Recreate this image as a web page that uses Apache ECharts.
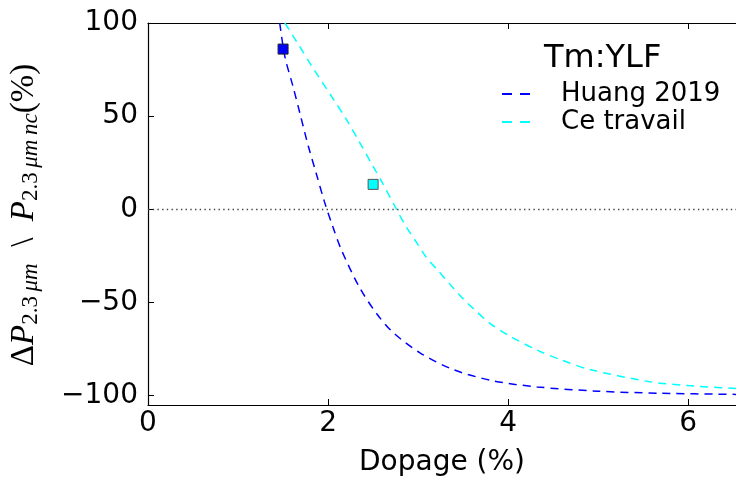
<!DOCTYPE html>
<html><head><meta charset="utf-8">
<script src="https://cdn.jsdelivr.net/npm/echarts@6/dist/echarts.min.js"></script>
<style>html,body{margin:0;padding:0;background:#fff}#c{width:736px;height:482px}</style>
</head><body><div id="c"></div>
<script>
// ---- data ----
const huangX = [1.463, 1.52, 1.61, 1.69, 1.78, 1.87, 1.96, 2.05, 2.15, 2.35, 2.54, 2.72, 3.02, 3.39, 3.83, 4.32, 5.0, 5.7, 6.53];
const huangY = [100, 82, 66, 51, 34, 19, 4, -9, -22, -42, -56, -66, -77, -86, -92, -95.3, -97.6, -98.7, -99.3];
const ceX = [1.52, 1.65, 1.83, 2.06, 2.2, 2.35, 2.5, 2.6, 2.76, 2.87, 2.98, 3.09, 3.22, 3.35, 3.48, 3.63, 3.8, 4.0, 4.32, 4.6, 4.91, 5.57, 6.0, 6.53];
const ceY = [100, 90, 76, 59, 48.5, 36, 23, 14.5, 0, -9.6, -17.6, -25.7, -32.8, -40, -47, -54, -61.3, -67.5, -75.5, -81, -86, -92.5, -94.6, -96.1];
const huangPoint = [1.5, 86];
const cePoint = [2.5, 13.4];
const xTicks = [0, 2, 4, 6];
const yTicks = [-100, -50, 0, 50, 100];
const seriesNames = ['Huang 2019', 'Ce travail'];
const legendTitle = 'Tm:YLF';
const xTitle = 'Dopage (%)';

const pair = (xs, ys) => xs.map((x, i) => [x, ys[i]]);
const FONT = 'DejaVu Sans';
const SERIF = 'Liberation Serif';

const chart = echarts.init(document.getElementById('c'), null, {renderer: 'canvas'});
const axisCommon = {
  type: 'value', min: 0, max: 6.53,
  axisLine: {show: true, onZero: false, lineStyle: {color: '#000', width: 1.2}},
  axisTick: {show: true, inside: true, length: 6, customValues: xTicks, lineStyle: {color: '#000'}},
  splitLine: {show: false}
};
const dashIcon = 'path://M0,0h10v2h-10z M18,0h10v2h-10z';
chart.setOption({
  animation: false,
  backgroundColor: '#fff',
  grid: {left: 148, right: 0, top: 23, bottom: 75},
  title: {
    text: legendTitle, left: 539, top: 38,
    textStyle: {fontFamily: FONT, fontSize: 32, fontWeight: 'normal', color: '#000'}
  },
  legend: {
    data: seriesNames.map(n => ({name: n, icon: dashIcon})),
    orient: 'vertical', left: 497, top: 76,
    itemWidth: 28, itemHeight: 2, itemGap: 2,
    textStyle: {fontFamily: FONT, fontSize: 26, lineHeight: 25, color: '#000', padding: [0, 0, 0, 26]}
  },
  xAxis: [
    Object.assign({}, axisCommon, {
      position: 'bottom',
      axisLabel: {customValues: xTicks, fontFamily: FONT, fontSize: 28, color: '#000', margin: 5},
      name: xTitle, nameLocation: 'middle', nameGap: 44,
      nameTextStyle: {fontFamily: FONT, fontSize: 28, color: '#000'}
    }),
    Object.assign({}, axisCommon, {position: 'top', axisLabel: {show: false}})
  ],
  yAxis: {
    type: 'value', min: -105, max: 100,
    axisLine: {show: true, onZero: false, lineStyle: {color: '#000', width: 1.2}},
    axisTick: {show: true, inside: true, length: 6, customValues: yTicks, lineStyle: {color: '#000'}},
    axisLabel: {customValues: yTicks, fontFamily: FONT, fontSize: 28, color: '#000', margin: 10,
      formatter: v => (v < 0 ? '\u2212' + (-v) : '' + v)},
    splitLine: {show: false}
  },
  graphic: [{
    type: 'text', x: 24, y: 215, rotation: Math.PI / 2,
    style: {
      text: '{u|\u0394}{i|P}{su|2.3}{si|\u2009\u03bcm}{n|  \\  }{i|P}{su|2.3}{si|\u2009\u03bcm\u2009nc}{n|(%)}',
      align: 'center', verticalAlign: 'middle', fill: '#000',
      rich: {
        u: {fontFamily: SERIF, fontSize: 33, lineHeight: 36, fill: '#000'},
        i: {fontFamily: SERIF, fontStyle: 'italic', fontSize: 33, lineHeight: 36, fill: '#000'},
        su: {fontFamily: SERIF, fontSize: 23, lineHeight: 14, verticalAlign: 'bottom', fill: '#000'},
        si: {fontFamily: SERIF, fontStyle: 'italic', fontSize: 23, lineHeight: 14, verticalAlign: 'bottom', fill: '#000'},
        n: {fontFamily: SERIF, fontSize: 33, lineHeight: 36, fill: '#000'}
      }
    }
  }],
  series: [
    {
      name: seriesNames[0], type: 'line', data: pair(huangX, huangY), smooth: 0.3,
      showSymbol: false, symbol: 'none', color: '#0000ff', z: 3,
      lineStyle: {color: '#0000ff', width: 1.5, type: [8, 6]},
      markLine: {
        silent: true, symbol: 'none', label: {show: false},
        lineStyle: {color: '#444', width: 1.4, type: [1.4, 3.3]},
        data: [{yAxis: 0}]
      }
    },
    {
      name: seriesNames[1], type: 'line', data: pair(ceX, ceY), smooth: 0.3,
      showSymbol: false, symbol: 'none', color: '#00ffff', z: 3,
      lineStyle: {color: '#00ffff', width: 1.5, type: [8, 6]}
    },
    {
      name: seriesNames[0] + ' (mesure)', type: 'scatter', data: [huangPoint], symbol: 'rect', symbolSize: 10, z: 4,
      itemStyle: {color: '#0000ff', borderColor: '#222', borderWidth: 1, opacity: 1}
    },
    {
      name: seriesNames[1] + ' (mesure)', type: 'scatter', data: [cePoint], symbol: 'rect', symbolSize: 10, z: 4,
      itemStyle: {color: '#00ffff', borderColor: '#555', borderWidth: 1, opacity: 1}
    }
  ]
});
</script></body></html>
